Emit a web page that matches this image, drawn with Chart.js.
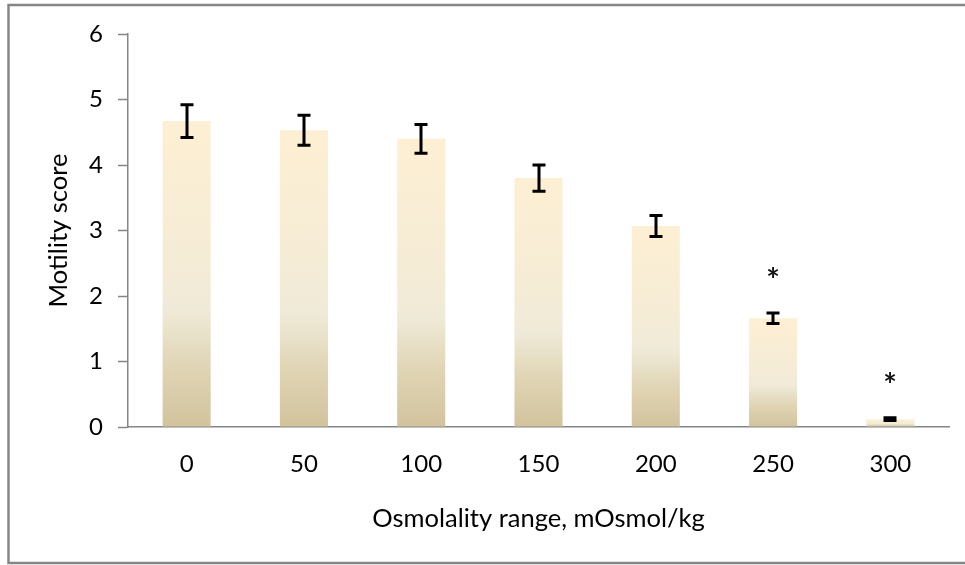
<!DOCTYPE html>
<html>
<head>
<meta charset="utf-8">
<title>Motility score</title>
<script src="https://cdn.jsdelivr.net/npm/chart.js@4/dist/chart.umd.min.js"></script>
<style>
  body { margin: 0; background: #fff; }
  canvas { display: block; }
</style>
</head>
<body>
<canvas id="motilityChart" width="965" height="565"></canvas>
<script>
// data
const categories = ['0', '50', '100', '150', '200', '250', '300'];
const motility = [4.67, 4.53, 4.40, 3.80, 3.07, 1.66, 0.12];
const sem = [0.25, 0.23, 0.22, 0.20, 0.16, 0.08, 0.02];
const significant = [false, false, false, false, false, true, true];
const yTicks = [0, 1, 2, 3, 4, 5, 6];

const axisGrey = '#868686';
const FONT = 'Lato';

/* cream-to-tan gradient, one per bar */
function barGradient(context) {
    const chart = context.chart;
    if (!chart.chartArea || context.dataIndex === undefined) return '#f3e9d2';
    const y = chart.scales.y;
    const top = y.getPixelForValue(context.raw);
    const bottom = y.getPixelForValue(0);
    const g = chart.ctx.createLinearGradient(0, top, 0, bottom);
    g.addColorStop(0, '#fdefd3');
    g.addColorStop(0.45, '#f5ecd6');
    g.addColorStop(0.62, '#efead8');
    g.addColorStop(0.8, '#e0d5b5');
    g.addColorStop(1, '#d2c39d');
    return g;
}

/* outer frame */
const framePlugin = {
    id: 'frame',
    beforeDraw(chart) {
        const ctx = chart.ctx;
        ctx.save();
        ctx.strokeStyle = axisGrey;
        ctx.lineWidth = 2.5;
        ctx.strokeRect(8.5, 5, chart.width + 10, 558);
        ctx.restore();
    }
};

/* error bars + significance stars */
const errorPlugin = {
    id: 'errorBars',
    afterDatasetsDraw(chart) {
        const ctx = chart.ctx;
        const meta = chart.getDatasetMeta(0);
        const y = chart.scales.y;
        ctx.save();
        ctx.strokeStyle = '#000';
        ctx.lineWidth = 3;
        meta.data.forEach((bar, i) => {
            const x = Math.round(bar.x);
            const hi = y.getPixelForValue(motility[i] + sem[i]);
            const lo = y.getPixelForValue(motility[i] - sem[i]);
            ctx.beginPath();
            ctx.moveTo(x, hi);
            ctx.lineTo(x, lo);
            ctx.moveTo(x - 6.5, hi);
            ctx.lineTo(x + 6.5, hi);
            ctx.moveTo(x - 6.5, lo);
            ctx.lineTo(x + 6.5, lo);
            ctx.stroke();
            if (significant[i]) {
                ctx.fillStyle = '#111';
                ctx.font = 'bold 32px ' + FONT;
                ctx.textAlign = 'center';
                ctx.textBaseline = 'alphabetic';
                const m = ctx.measureText('*');
                const cy = hi - 41;
                ctx.fillText('*', x, cy + (m.actualBoundingBoxAscent - m.actualBoundingBoxDescent) / 2);
            }
        });
        ctx.restore();
    }
};

new Chart(document.getElementById('motilityChart'), {
    type: 'bar',
    data: {
        labels: categories,
        datasets: [{
            label: 'Motility score',
            data: motility,
            backgroundColor: barGradient,
            borderWidth: 0,
            barPercentage: 0.41,
            categoryPercentage: 1
        }]
    },
    options: {
        responsive: false,
        animation: false,
        layout: { padding: { left: 0, right: 16, top: 34, bottom: 0 } },
        plugins: {
            legend: { display: false },
            tooltip: { enabled: false }
        },
        scales: {
            x: {
                grid: { color: 'transparent', drawTicks: false },
                border: { color: axisGrey, width: 1.5 },
                ticks: { color: '#000', font: { family: FONT, size: 24 }, padding: 23 },
                title: {
                    display: true,
                    text: 'Osmolality range, mOsmol/kg',
                    color: '#000',
                    font: { family: FONT, size: 25.5 },
                    padding: { top: 0, bottom: 31 }
                },
                afterFit: s => { s.height = 138; }
            },
            y: {
                min: yTicks[0],
                max: yTicks[yTicks.length - 1],
                afterBuildTicks: s => { s.ticks = yTicks.map(v => ({ value: v })); },
                grid: { color: 'transparent', tickColor: axisGrey, tickLength: 10, tickWidth: 1.5 },
                border: { color: axisGrey, width: 1.5 },
                ticks: { color: '#000', font: { family: FONT, size: 24 }, padding: 15 },
                title: {
                    display: true,
                    text: 'Motility score',
                    color: '#000',
                    font: { family: FONT, size: 25.5 },
                    padding: { top: 43, bottom: 0 }
                },
                afterFit: s => { s.width = 128; }
            }
        }
    },
    plugins: [framePlugin, errorPlugin]
});
</script>
</body>
</html>
